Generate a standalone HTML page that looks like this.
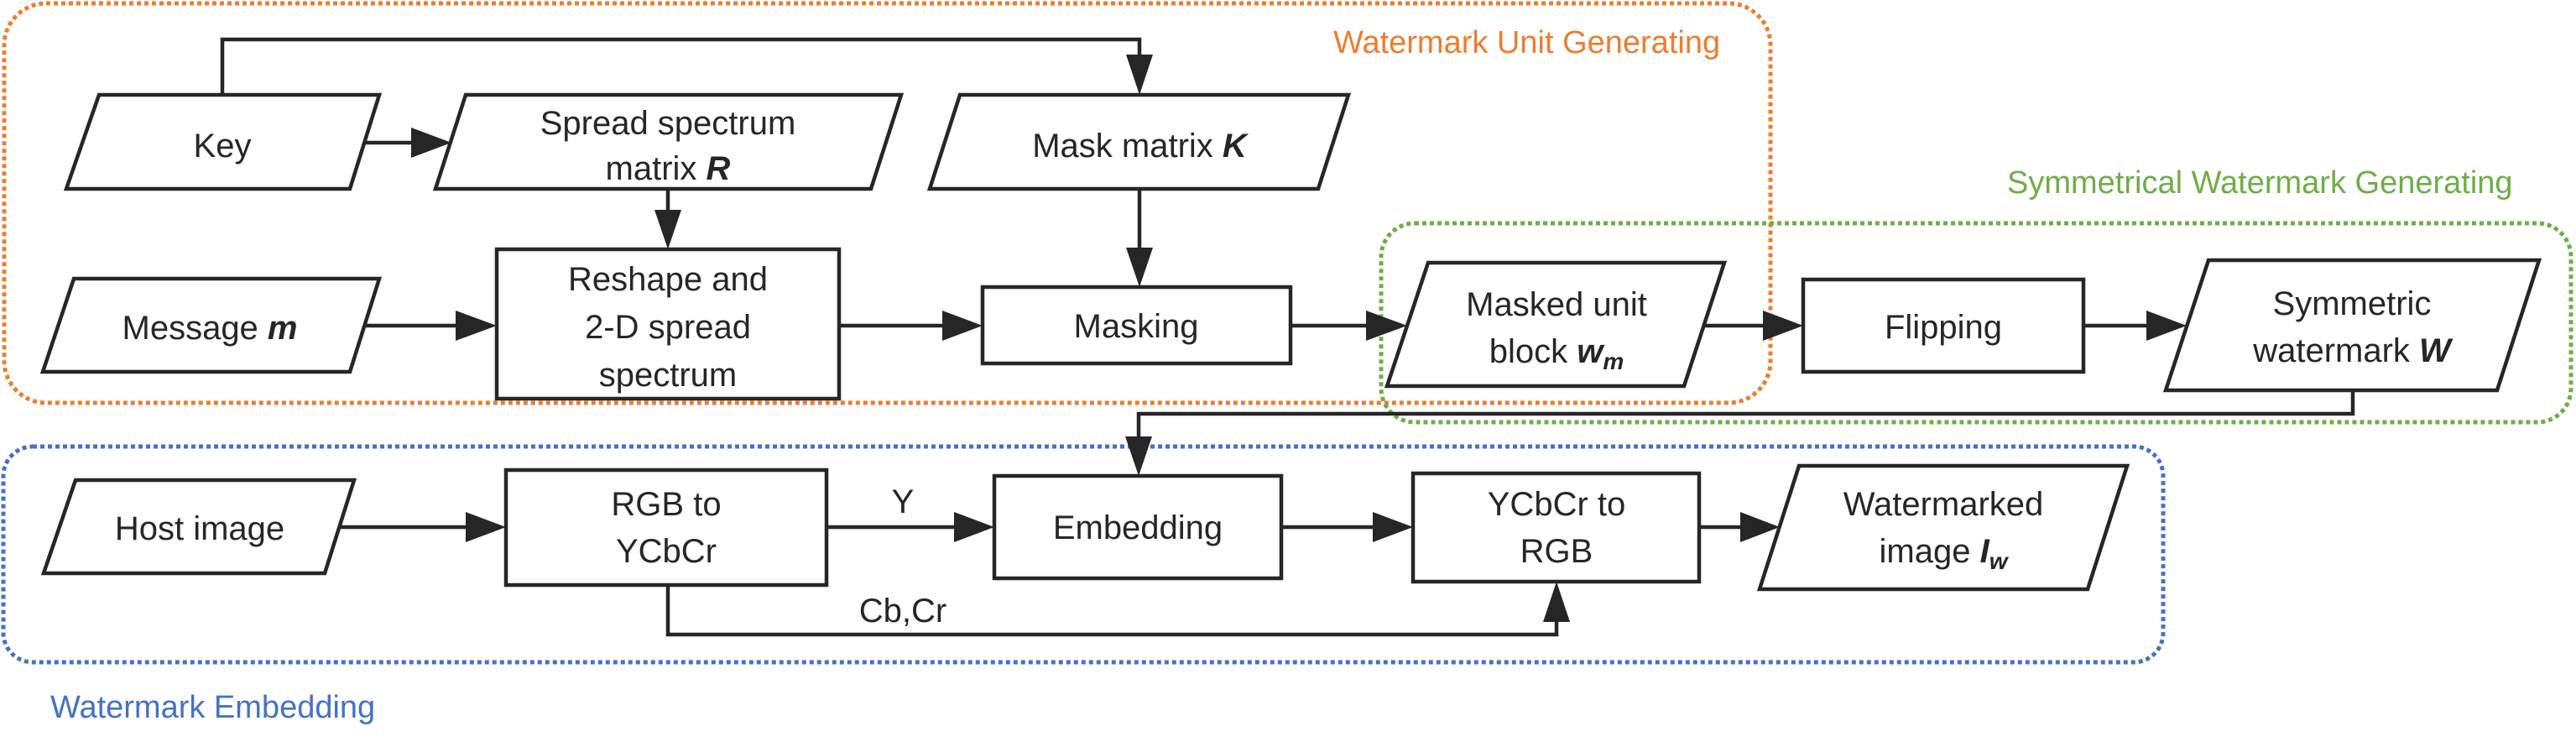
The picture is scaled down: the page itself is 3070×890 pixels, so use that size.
<!DOCTYPE html>
<html><head><meta charset="utf-8"><style>
html,body{margin:0;padding:0;background:#fff;}
svg{display:block;}
text{font-family:"Liberation Sans",sans-serif;}
.n{font-size:40px;fill:#262626;text-anchor:middle;}
.b{stroke:#262626;stroke-width:4.5;fill:#fff;}
.l{stroke:#262626;stroke-width:4.5;fill:none;}
.a{fill:#262626;}
</style></head><body>
<svg width="3070" height="890" viewBox="0 0 3070 890" xmlns="http://www.w3.org/2000/svg">
<!-- group borders -->
<rect x="5" y="4" width="2105" height="476" rx="50" fill="none" stroke="#ED7D31" stroke-width="5" stroke-dasharray="5 4"/>
<rect x="1646" y="266" width="1418" height="237" rx="40" fill="none" stroke="#70AD47" stroke-width="5" stroke-dasharray="5 4"/>
<rect x="4" y="532" width="2574" height="257" rx="35" fill="none" stroke="#4472C4" stroke-width="5" stroke-dasharray="5 4"/>
<text x="1589" y="63" font-size="38" fill="#ED7D31">Watermark Unit Generating</text>
<text x="2392" y="230" font-size="38" fill="#70AD47">Symmetrical Watermark Generating</text>
<text x="60" y="855" font-size="38" fill="#4472C4">Watermark Embedding</text>

<!-- connectors -->
<polyline class="l" points="265,113 265,47 1358,47 1358,70"/>
<polygon class="a" points="1342,65 1374,65 1358,113"/>
<line class="l" x1="432" y1="170" x2="492" y2="170"/><polygon class="a" points="490,152 490,188 538,170"/>
<line class="l" x1="796" y1="225" x2="796" y2="255"/><polygon class="a" points="780,250 812,250 796,297"/>
<line class="l" x1="432" y1="388" x2="545" y2="388"/><polygon class="a" points="543,370 543,406 592,388"/>
<line class="l" x1="1000" y1="388" x2="1125" y2="388"/><polygon class="a" points="1123,370 1123,406 1171,388"/>
<line class="l" x1="1358" y1="225" x2="1358" y2="300"/><polygon class="a" points="1342,295 1374,295 1358,342"/>
<line class="l" x1="1538" y1="388" x2="1630" y2="388"/><polygon class="a" points="1628,370 1628,406 1677,388"/>
<line class="l" x1="2032" y1="388" x2="2103" y2="388"/><polygon class="a" points="2101,370 2101,406 2149,388"/>
<line class="l" x1="2483" y1="388" x2="2560" y2="388"/><polygon class="a" points="2558,370 2558,406 2606,388"/>
<polyline class="l" points="2804,465 2804,493 1357,493 1357,525"/>
<polygon class="a" points="1341,520 1373,520 1357,567"/>
<line class="l" x1="400" y1="628" x2="556" y2="628"/><polygon class="a" points="555,610 555,646 603,628"/>
<line class="l" x1="985" y1="628" x2="1138" y2="628"/><polygon class="a" points="1137,610 1137,646 1185,628"/>
<line class="l" x1="1527" y1="628" x2="1637" y2="628"/><polygon class="a" points="1636,610 1636,646 1684,628"/>
<line class="l" x1="2025" y1="628" x2="2076" y2="628"/><polygon class="a" points="2074,610 2074,646 2121,628"/>
<polyline class="l" points="796,697 796,756 1855,756 1855,740"/>
<polygon class="a" points="1839,741 1871,741 1855,693"/>
<text class="n" x="1076" y="611">Y</text>
<text class="n" x="1076" y="741">Cb,Cr</text>

<!-- nodes -->
<polygon class="b" points="118,113 452,113 417,225 79,225"/>
<text class="n" x="265" y="187">Key</text>
<polygon class="b" points="555,113 1074,113 1038,225 519,225"/>
<text class="n" x="796" y="160">Spread spectrum</text>
<text class="n" x="796" y="214">matrix <tspan font-weight="bold" font-style="italic">R</tspan></text>
<polygon class="b" points="1144,113 1607,113 1571,225 1108,225"/>
<text class="n" x="1358" y="187">Mask matrix <tspan font-weight="bold" font-style="italic">K</tspan></text>
<polygon class="b" points="88,332 452,332 417,443 51,443"/>
<text class="n" x="250" y="404">Message <tspan font-weight="bold" font-style="italic">m</tspan></text>
<rect class="b" x="592" y="297" width="408" height="178"/>
<text class="n" x="796" y="346">Reshape and</text>
<text class="n" x="796" y="403">2-D spread</text>
<text class="n" x="796" y="460">spectrum</text>
<rect class="b" x="1171" y="342" width="367" height="91"/>
<text class="n" x="1354" y="402">Masking</text>
<polygon class="b" points="1702,313 2055,313 2007,460 1653,460"/>
<text class="n" x="1855" y="376">Masked unit</text>
<text class="n" x="1855" y="432">block <tspan font-weight="bold" font-style="italic">w</tspan><tspan font-weight="bold" font-style="italic" font-size="28" dy="8">m</tspan></text>
<rect class="b" x="2149" y="333" width="334" height="110"/>
<text class="n" x="2316" y="403">Flipping</text>
<polygon class="b" points="2632,310 3026,310 2976,465 2581,465"/>
<text class="n" x="2803" y="375">Symmetric</text>
<text class="n" x="2803" y="431">watermark <tspan font-weight="bold" font-style="italic">W</tspan></text>

<polygon class="b" points="90,572 422,572 387,683 52,683"/>
<text class="n" x="238" y="643">Host image</text>
<rect class="b" x="603" y="560" width="382" height="137"/>
<text class="n" x="794" y="614">RGB to</text>
<text class="n" x="794" y="670">YCbCr</text>
<rect class="b" x="1185" y="567" width="342" height="122"/>
<text class="n" x="1356" y="642">Embedding</text>
<rect class="b" x="1684" y="564" width="341" height="129"/>
<text class="n" x="1855" y="614">YCbCr to</text>
<text class="n" x="1855" y="670">RGB</text>
<polygon class="b" points="2144,555 2535,555 2488,702 2097,702"/>
<text class="n" x="2316" y="614">Watermarked</text>
<text class="n" x="2316" y="670">image <tspan font-weight="bold" font-style="italic">I</tspan><tspan font-weight="bold" font-style="italic" font-size="28" dy="8">w</tspan></text>
</svg>
</body></html>
